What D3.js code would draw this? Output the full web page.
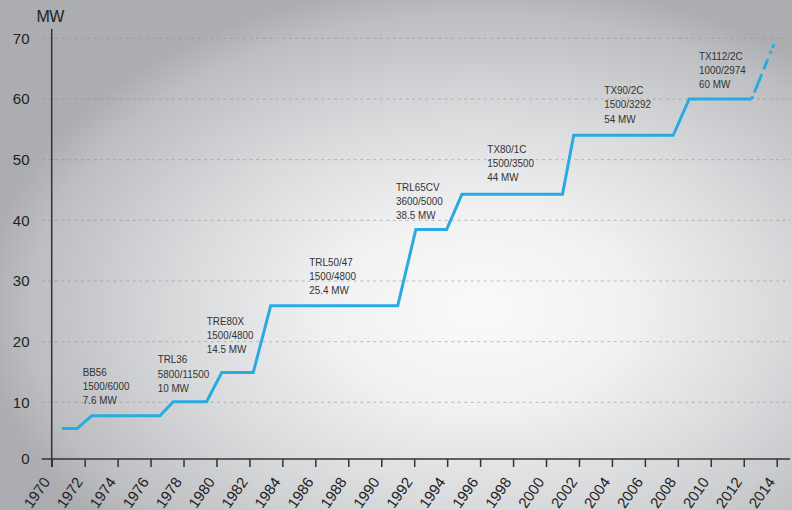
<!DOCTYPE html>
<html><head><meta charset="utf-8">
<script src="https://cdn.jsdelivr.net/npm/d3@7"></script>
<style>html,body{margin:0;padding:0;background:#fff;} svg{display:block}</style>
</head><body><svg id="c" width="792" height="510"></svg>
<script>
// ---- data ----
const stepYears = [1970.62, 1971.55, 1972.43, 1976.57, 1977.38, 1979.4, 1980.32, 1982.23, 1983.29, 1991.0, 1992.1, 1993.97, 1994.9, 2001.0, 2001.68, 2007.72, 2008.69, 2012.48];
const stepMW    = [5.7, 5.7, 7.8, 7.8, 10.1, 10.1, 14.9, 14.9, 25.9, 25.9, 38.5, 38.5, 44.3, 44.3, 54.0, 54.0, 60.0, 60.0];
const projYears = [2012.48, 2013.83];
const projMW    = [60.0, 69.0];
const xTickYears = [1970,1972,1974,1976,1978,1980,1982,1984,1986,1988,1990,1992,1994,1996,1998,2000,2002,2004,2006,2008,2010,2012,2014];
const yTickValues = [0,10,20,30,40,50,60,70];
const modelNames   = ["BB56","TRL36","TRE80X","TRL50/47","TRL65CV","TX80/1C","TX90/2C","TX112/2C"];
const modelSpecs   = ["1500/6000","5800/11500","1500/4800","1500/4800","3600/5000","1500/3500","1500/3292","1000/2974"];
const modelRatings = ["7.6 MW","10 MW","14.5 MW","25.4 MW","38.5 MW","44 MW","54 MW","60 MW"];
// label anchors in data units (year, MW)
const labelYears = [1971.88,1976.43,1979.41,1985.63,1990.9,1996.44,2003.54,2009.28];
const labelMW    = [14.38,16.42,22.78,32.5,44.85,51.17,60.78,66.43];

// ---- chart ----
const W = 792, H = 510;
const svg = d3.select("#c");
const defs = svg.append("defs");
const rg = defs.append("radialGradient").attr("id","bg")
  .attr("gradientUnits","userSpaceOnUse").attr("cx",0).attr("cy",0).attr("r",1)
  .attr("gradientTransform","translate(480,310) scale(500,330)");
[[0,"#fafafa"],[0.3,"#f1f1f2"],[0.6,"#d9dadc"],[0.9,"#bdbec1"],[1,"#acadb1"]]
  .forEach(([o,c]) => rg.append("stop").attr("offset",o).attr("stop-color",c));
svg.append("rect").attr("width",W).attr("height",H).attr("fill","url(#bg)");

const x = d3.scaleLinear().domain([1970,2014]).range([51.7,776.7]);
const y = d3.scaleLinear().domain([0,70]).range([463,38.3]);
const baseY = y(0) - 4;
const font = "'Liberation Sans', Arial, sans-serif";

// gridlines
svg.append("g").selectAll("line").data(yTickValues.filter(v => v > 0)).join("line")
  .attr("x1",41.7).attr("x2",790).attr("y1",d=>y(d)).attr("y2",d=>y(d))
  .attr("stroke","#8f8f92").attr("stroke-width",1).attr("stroke-dasharray","3,3.5").attr("opacity",0.55);

// y labels
svg.append("g").selectAll("text").data(yTickValues).join("text")
  .attr("x",29.5).attr("y",d => d === 0 ? baseY : y(d)).attr("dy","0.36em")
  .attr("text-anchor","end").attr("font-family",font).attr("font-size",15).attr("fill","#222")
  .text(d=>d);
svg.append("text").attr("x",36.5).attr("y",21.7).attr("font-family",font).attr("font-size",16)
  .attr("fill","#222").attr("letter-spacing",-0.5).text("MW");

// x axis
const xa = svg.append("g").attr("transform",`translate(0,${baseY})`)
  .call(d3.axisBottom(x).tickValues(xTickYears).tickSize(8).tickFormat(d3.format("d")));
xa.select(".domain").remove();
xa.selectAll(".tick line").attr("stroke","#333").attr("stroke-width",1.5);
xa.selectAll(".tick text").attr("y",null).attr("dy",null)
  .attr("transform","translate(-1.5,23) rotate(-55)").attr("text-anchor","end")
  .attr("font-family",font).attr("font-size",15).attr("fill","#222");
svg.append("line").attr("x1",41.7).attr("x2",790).attr("y1",baseY).attr("y2",baseY)
  .attr("stroke","#333").attr("stroke-width",1.5);
svg.append("line").attr("x1",x(1970)).attr("x2",x(1970)).attr("y1",29).attr("y2",baseY+8)
  .attr("stroke","#333").attr("stroke-width",1.5);

// line
const line = d3.line().x(d=>x(d[0])).y(d=>y(d[1]));
svg.append("path").datum(d3.zip(stepYears, stepMW)).attr("d",line)
  .attr("fill","none").attr("stroke","#29abe2").attr("stroke-width",3);
svg.append("path").datum(d3.zip(projYears, projMW)).attr("d",line)
  .attr("fill","none").attr("stroke","#29abe2").attr("stroke-width",3)
  .attr("stroke-dasharray","3,4,20,5,11,6,3");

// annotations (condensed by horizontal scaling)
const ann = svg.append("g").attr("font-family",font)
  .attr("font-size",11.5).attr("fill","#333");
modelNames.forEach((n,i) => {
  const t = ann.append("text")
    .attr("transform",`translate(${x(labelYears[i])},${y(labelMW[i])}) scale(0.86,1)`);
  [n, modelSpecs[i], modelRatings[i]].forEach((s,j) =>
    t.append("tspan").attr("x",0).attr("dy", j===0 ? 0 : 14.2).text(s));
});
</script></body></html>
